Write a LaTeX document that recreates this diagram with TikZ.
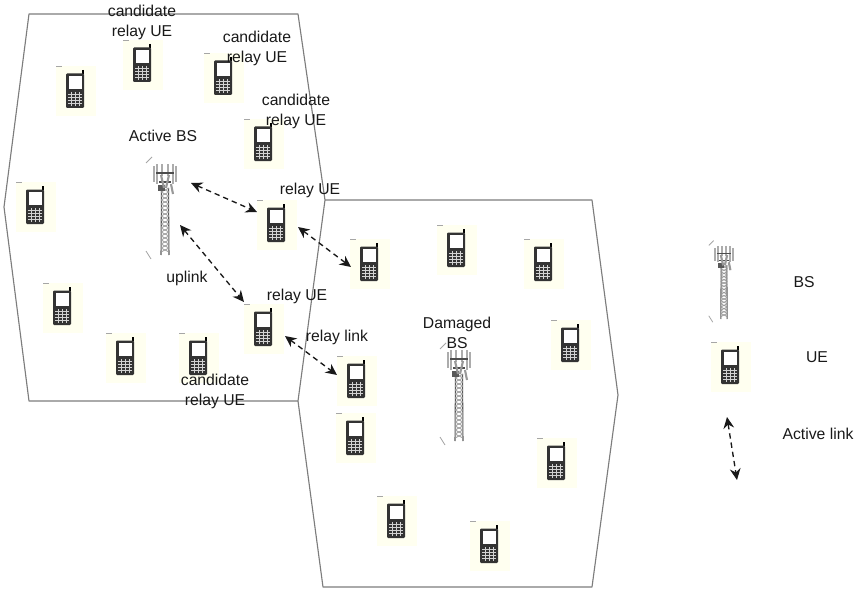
\documentclass[tikz,border=0pt]{standalone}
\usepackage{fontspec}
\setmainfont{Liberation Sans}
\usetikzlibrary{arrows.meta}
\definecolor{cream}{RGB}{255,255,240}
\definecolor{cellline}{RGB}{125,125,125}
\definecolor{ink}{RGB}{25,25,25}
\tikzset{
  x=.75pt,y=-.75pt,
  ue/.style={fill=cream,draw=none,minimum width=30pt,minimum height=37.5pt,inner sep=0pt},
  towerbox/.style={draw=none,minimum width=39pt,minimum height=67.5pt,inner sep=0pt},
  cell/.style={draw=cellline,line width=.85pt,line join=round},
  label/.style={font=\fontsize{11.8pt}{15pt}\selectfont,text=ink,align=center,inner sep=0pt},
  link/.style={draw=ink,line width=1pt,dash pattern=on 4pt off 3pt,{Stealth[length=8.5pt,width=8pt]}-{Stealth[length=8.5pt,width=8pt]}},
  phonepic/.pic={
    \draw[gray!70,line width=.6pt] (-20,-24.5) -- (-14,-24.5);
    \draw[black,line width=.9pt] (7,-21) -- (7,-17);
    \fill[black!80,rounded corners=.8pt] (-10,-17.5) rectangle (8,17);
    \fill[white] (-7.5,-15) rectangle (5.5,-2);
    \foreach \gx in {-4,0,4}{\draw[gray!35,line width=.5pt] (\gx-.5,1) -- (\gx-.5,15);}
    \foreach \gy in {3.5,6.5,9.5,12.5}{\draw[gray!35,line width=.5pt] (-8,\gy) -- (6,\gy);}
  },
  towerpic/.pic={
    \draw[gray!70,line width=.6pt] (-19,-47) -- (-13,-53);
    \draw[gray!70,line width=.6pt] (-19,41) -- (-14,49);
    \draw[gray!70!black,line width=.8pt] (-3.5,-22) -- (-4,45) (3.5,-22) -- (4,45);
    \foreach \ty in {-22,-18,...,41}{
      \draw[gray!80,line width=.55pt] (-4,\ty) -- (4,\ty+4) (4,\ty) -- (-4,\ty+4);
    }
    \foreach \px/\pt/\pb in {-11/-44/-28,-8/-46/-26,8/-46/-26,11/-44/-28,-3/-46/-34,3/-46/-34}{
      \draw[gray!65,line width=1.6pt] (\px,\pt) -- (\px,\pb);
    }
    \draw[gray!60!black,line width=.9pt] (-9,-37) -- (9,-37) (-6,-28) -- (6,-28);
    \fill[black!65] (-7,-25) rectangle (0,-19);
    \draw[gray!80,line width=1.6pt] (6,-26) -- (8,-16) (-4,-35) -- (-1,-22) (4,-35) -- (1,-22);
  }
}
\newcommand{\phone}[3]{\node[ue] (#1) at (#2+1,#3) {}; \pic at (#1.center) {phonepic};}
\begin{document}
\begin{tikzpicture}
\useasboundingbox (0,0) rectangle (854,592);
% cells
\draw[cell] (29,14) -- (298,14) -- (325,200) -- (298,401) -- (29,401) -- (4,207) -- cycle;
\draw[cell] (325,200) -- (592,200) -- (618,395) -- (592,587) -- (323,587) -- (298,401);
% phones
\phone{p1}{75}{91}
\phone{p2}{142}{65}
\phone{p3}{223}{78}
\phone{p4}{263}{144}
\phone{p5}{35}{207}
\phone{r1}{276}{225}
\phone{q1}{369}{264}
\phone{p6}{456}{250}
\phone{p7}{543}{264}
\phone{p8}{570}{345}
\phone{p9}{62}{308}
\phone{p10}{125}{358}
\phone{p11}{198}{358}
\phone{r2}{263}{329}
\phone{q2}{356}{381}
\phone{p12}{355}{438}
\phone{p13}{396}{521}
\phone{p14}{489}{546}
\phone{p15}{556}{463}
\phone{legue}{730}{367}
% towers
\node[towerbox] (active) at (165,210) {};
\pic at (active.center) {towerpic};
\node[towerbox] (damaged) at (459,396) {};
\pic at (damaged.center) {towerpic};
\node[towerbox,minimum height=54pt,minimum width=30pt] (legbs) at (724,283) {};
\pic[scale=.8] at (legbs.center) {towerpic};
% links
\draw[link] ([shift={(26,-27)}]active.center) -- ([shift={(-20,-13)}]r1.center);
\draw[link] ([shift={(15,15)}]active.center) -- ([shift={(-20,-27)}]r2.center);
\draw[link] ([shift={(21,2)}]r1.center) -- ([shift={(-19,3)}]q1.center);
\draw[link] ([shift={(21,7)}]r2.center) -- ([shift={(-20,-6)}]q2.center);
\coordinate (legtop) at (727,417);
\coordinate (legbot) at (737,480);
\draw[link] (legtop) -- (legbot);
% labels
\node[label] (l1) at (142,22) {candidate\\relay UE};
\node[label] (l2) at (257,48) {candidate\\relay UE};
\node[label] (l3) at (296,111) {candidate\\relay UE};
\node[label] (l4) at (163,136) {Active BS};
\node[label] (l5) at (310,190) {relay UE};
\node[label] (l6) at (297,296) {relay UE};
\node[label] (l7) at (187,278) {uplink};
\node[label] (l8) at (337,337) {relay link};
\node[label] (l9) at (457,333) {Damaged\\BS};
\node[label] (l10) at (215,391) {candidate\\relay UE};
\node[label] (l11) at (804,282) {BS};
\node[label] (l12) at (817,357) {UE};
\node[label] (l13) at (818,434) {Active link};
\end{tikzpicture}
\end{document}
